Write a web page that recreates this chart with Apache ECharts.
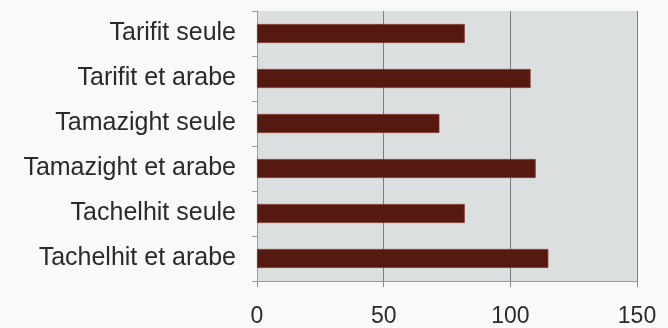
<!DOCTYPE html>
<html>
<head>
<meta charset="utf-8">
<script src="https://cdn.jsdelivr.net/npm/echarts@6/dist/echarts.min.js"></script>
<style>
  html, body { margin: 0; padding: 0; background: #f8f9f9; }
  #chart { width: 668px; height: 328px; }
</style>
</head>
<body>
<div id="chart"></div>
<script>
// Language groups, listed bottom to top as the category axis draws them
const categories = [
  'Tachelhit et arabe',
  'Tachelhit seule',
  'Tamazight et arabe',
  'Tamazight seule',
  'Tarifit et arabe',
  'Tarifit seule'
];
const values = [115, 82, 110, 72, 108, 82];
const xTicks = [0, 50, 100, 150];

const chart = echarts.init(document.getElementById('chart'), null, { renderer: 'canvas' });

chart.setOption({
  animation: false,
  backgroundColor: '#f8f9f9',
  grid: {
    left: 257, right: 31, top: 11, bottom: 47,
    show: true,
    backgroundColor: '#dcdfe0',
    borderWidth: 0
  },
  xAxis: {
    type: 'value',
    min: xTicks[0],
    max: xTicks[xTicks.length - 1],
    interval: 50,
    axisLine: { show: true, lineStyle: { color: '#9a9c9e', width: 1 } },
    axisTick: { show: true, length: 6, lineStyle: { color: '#8a8c8e' } },
    axisLabel: {
      color: '#2a2a2a', fontSize: 23, fontFamily: 'Liberation Sans, Arial, sans-serif',
      margin: 24
    },
    splitLine: { show: true, lineStyle: { color: '#7c7f82', width: 1 } }
  },
  yAxis: {
    type: 'category',
    data: categories,
    axisLine: { show: true, lineStyle: { color: '#9a9c9e', width: 1 } },
    axisTick: { show: true, length: 5, lineStyle: { color: '#9a9c9e' } },
    axisLabel: {
      color: '#2a2a2a', fontSize: 25, fontFamily: 'Liberation Sans, Arial, sans-serif',
      margin: 21
    },
    splitLine: { show: false }
  },
  series: [{
    type: 'bar',
    data: values,
    barWidth: 19,
    itemStyle: { color: '#561912', borderColor: '#7a3322', borderWidth: 0.8 }
  }]
});
</script>
</body>
</html>
